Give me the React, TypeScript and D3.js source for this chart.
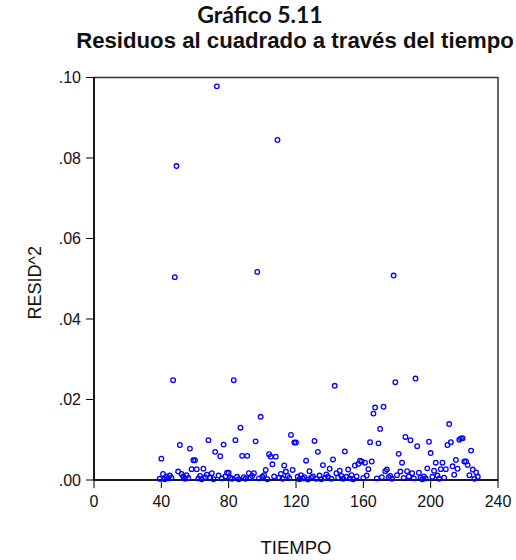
import React from "react";
import * as d3 from "d3";

// Chart text
const TITLE = "Gráfico 5.11";
const SUBTITLE = "Residuos al cuadrado a través del tiempo";
const X_LABEL = "TIEMPO";
const Y_LABEL = "RESID^2";

// Axis ticks
const X_TICKS = [0, 40, 80, 120, 160, 200, 240];
const Y_TICKS = [0, 0.02, 0.04, 0.06, 0.08, 0.1];

// Squared residuals, one per period starting at FIRST_PERIOD
const FIRST_PERIOD = 39;
const RESID2 = [
  0.0003, 0.0053, 0.0015, 0.0002, 0.0008, 0.0004, 0.0011, 0.0006, 0.0248, 0.0504,
  0.078, 0.0021, 0.0087, 0.0015, 0.0009, 0.0003, 0.0012, 0.0005, 0.0078, 0.0027,
  0.0049, 0.0049, 0.0027, 0.0004, 0.001, 0.0002, 0.0028, 0.0007, 0.0013, 0.0099,
  0.0005, 0.0017, 0.0002, 0.007, 0.0978, 0.0011, 0.0059, 0.0004, 0.0088, 0.0009,
  0.0018, 0.0018, 0.0006, 0.0003, 0.0248, 0.0099, 0.0008, 0.0002, 0.013, 0.006,
  0.0007, 0.0003, 0.006, 0.0017, 0.0005, 0.001, 0.0017, 0.0096, 0.0517, 0.0004,
  0.0157, 0.0008, 0.0012, 0.0025, 0.0002, 0.0064, 0.0058, 0.0039, 0.0009, 0.0058,
  0.0845, 0.0006, 0.0015, 0.0003, 0.0036, 0.0021, 0.001, 0.0005, 0.0112, 0.0025,
  0.0093, 0.0093, 0.0008, 0.0002, 0.0012, 0.0004, 0.0007, 0.0048, 0.0001, 0.0022,
  0.0006, 0.0009, 0.0097, 0.0003, 0.007, 0.0011, 0.0002, 0.0037, 0.0005, 0.0014,
  0.0008, 0.0028, 0.0003, 0.0051, 0.0234, 0.0017, 0.0006, 0.0023, 0.001, 0.0003,
  0.0071, 0.0008, 0.0026, 0.0004, 0.0012, 0.0002, 0.0036, 0.0009, 0.004, 0.0048,
  0.0046, 0.0005, 0.0043, 0.0011, 0.0027, 0.0094, 0.0046, 0.0165, 0.018, 0.0004,
  0.0091, 0.0127, 0.0007, 0.0182, 0.0022, 0.0026, 0.0007, 0.001, 0.0003, 0.0508,
  0.0243, 0.0012, 0.0065, 0.0021, 0.0043, 0.0005, 0.0107, 0.0022, 0.0009, 0.0099,
  0.0017, 0.0004, 0.0252, 0.0084, 0.0018, 0.0006, 0.0002, 0.0009, 0.0004, 0.0029,
  0.0095, 0.0067, 0.0008, 0.0023, 0.0043, 0.0011, 0.0003, 0.0027, 0.0043, 0.0006,
  0.0027, 0.0087, 0.0139, 0.0094, 0.0034, 0.0013, 0.005, 0.0028, 0.01, 0.0103,
  0.0104, 0.0046, 0.0046, 0.0037, 0.0012, 0.0073, 0.0026, 0.0003, 0.0019, 0.0008,
];
const TIEMPO = d3.range(FIRST_PERIOD, FIRST_PERIOD + RESID2.length);

const WIDTH = 516;
const HEIGHT = 560;
const PLOT = { left: 94, right: 498, top: 77.5, bottom: 480 };
const SANS = "'Liberation Sans', Arial, sans-serif";

const fmtY = (v: number) => d3.format(".2f")(v).replace(/^0/, "");

export default function App() {
  const x = d3.scaleLinear().domain([0, 240]).range([PLOT.left, PLOT.right]);
  const y = d3.scaleLinear().domain([0, 0.1]).range([PLOT.bottom, PLOT.top]);
  const points = TIEMPO.map((t, i) => ({ t, v: RESID2[i] }));

  return (
    <svg
      width={WIDTH}
      height={HEIGHT}
      style={{ position: "absolute", left: 0, top: 0, background: "#fff" }}
    >
      <text
        x={260}
        y={23}
        textAnchor="middle"
        fontFamily="Lato, 'Open Sans', sans-serif"
        fontWeight={700}
        fontSize={23}
        fill="#111"
      >
        {TITLE}
      </text>
      <text
        x={295}
        y={48}
        textAnchor="middle"
        fontFamily={SANS}
        fontWeight={700}
        fontSize={22.2}
        fill="#111"
      >
        {SUBTITLE}
      </text>

      {/* plot frame */}
      <rect
        x={PLOT.left}
        y={PLOT.top}
        width={PLOT.right - PLOT.left}
        height={PLOT.bottom - PLOT.top}
        fill="none"
        stroke="#333"
        strokeWidth={1.5}
      />

      {/* y axis */}
      <line x1={PLOT.left} x2={PLOT.left} y1={PLOT.top} y2={PLOT.bottom} stroke="#000" strokeWidth={1.5} />
      {Y_TICKS.map((v) => (
        <g key={v} transform={`translate(0,${y(v)})`}>
          <line x1={PLOT.left - 8} x2={PLOT.left} stroke="#000" strokeWidth={1} />
          <text
            x={PLOT.left - 13}
            dy="0.36em"
            textAnchor="end"
            fontFamily={SANS}
            fontSize={16}
            fill="#111"
          >
            {fmtY(v)}
          </text>
        </g>
      ))}

      {/* x axis */}
      <line x1={PLOT.left} x2={PLOT.right} y1={PLOT.bottom} y2={PLOT.bottom} stroke="#000" strokeWidth={1.5} />
      {X_TICKS.map((v) => (
        <g key={v} transform={`translate(${x(v)},0)`}>
          <line y1={PLOT.bottom} y2={PLOT.bottom + 8} stroke="#000" strokeWidth={1} />
          <text
            y={PLOT.bottom + 27}
            textAnchor="middle"
            fontFamily={SANS}
            fontSize={16}
            fill="#111"
          >
            {v}
          </text>
        </g>
      ))}

      {/* axis titles */}
      <text
        x={296}
        y={554}
        textAnchor="middle"
        fontFamily={SANS}
        fontSize={18.5}
        fill="#111"
      >
        {X_LABEL}
      </text>
      <text
        transform={`translate(41,${(PLOT.top + PLOT.bottom) / 2 + 4}) rotate(-90)`}
        textAnchor="middle"
        fontFamily={SANS}
        fontSize={18}
        fill="#111"
      >
        {Y_LABEL}
      </text>

      {/* observations */}
      <g fill="none" stroke="#0000ff" strokeWidth={1.3}>
        {points.map((p) => (
          <circle key={p.t} cx={x(p.t)} cy={y(p.v)} r={2.3} />
        ))}
      </g>
    </svg>
  );
}
